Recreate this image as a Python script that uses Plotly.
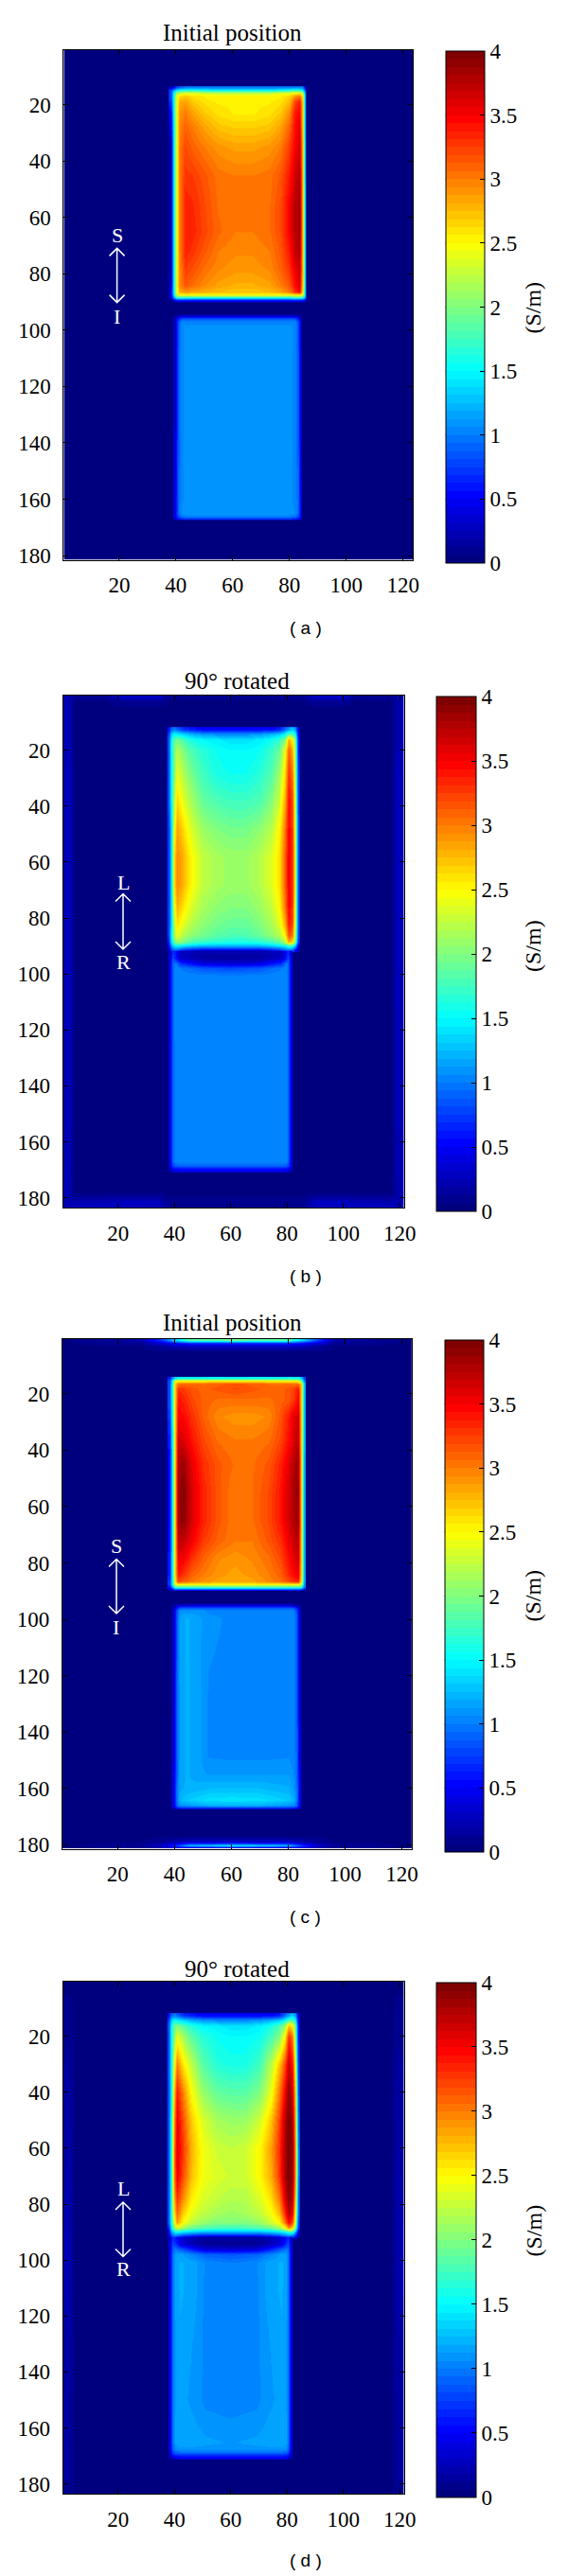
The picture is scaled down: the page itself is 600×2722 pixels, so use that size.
"""
Four conductivity maps (S/m), jet colour scale, each with its own colorbar
"""

import plotly.graph_objects as go

WIDTH = 600
HEIGHT = 2722

X_TICKS = [20, 40, 60, 80, 100, 120]
Y_TICKS = [20, 40, 60, 80, 100, 120, 140, 160, 180]
CBAR_TICKS = [0, 0.5, 1, 1.5, 2, 2.5, 3, 3.5, 4]
CBAR_LABELS = ['0', '0.5', '1', '1.5', '2', '2.5', '3', '3.5', '4']

# background level
BG_VAL = 0.05

# panel (a)
A_TOP_X = [38, 39, 40, 41, 43, 46, 50, 55, 61, 67, 73, 77, 80, 82, 83.5, 84.5, 85.5]
A_TOP_Y = [14, 15, 16, 17, 19, 23, 28, 35, 45, 55, 65, 72, 78, 84, 86.5, 87.5, 88.5, 89.5]
A_TOP_Z = [
    [.3, .5, .8, .9, 1, 1, 1, 1, 1, 1, 1, 1, 1, 1, 1, 1, .4],
    [.8, 1.2, 1.5, 1.6, 1.7, 1.7, 1.6, 1.5, 1.5, 1.5, 1.5, 1.6, 1.7, 1.8, 1.7, 1.5, .8],
    [.8, 1.5, 2.2, 2.3, 2.4, 2.4, 2.3, 2.3, 2.3, 2.3, 2.3, 2.4, 2.4, 2.5, 2.6, 2.3, 1],
    [.8, 1.6, 2.4, 2.6, 2.7, 2.6, 2.55, 2.5, 2.5, 2.5, 2.5, 2.55, 2.65, 2.9, 3, 2.6, 1],
    [.7, 1.6, 2.4, 2.8, 2.85, 2.7, 2.6, 2.55, 2.55, 2.55, 2.55, 2.6, 2.75, 3.2, 3.4, 2.7, 1],
    [.5, 1.6, 2.4, 2.9, 3, 2.85, 2.7, 2.6, 2.55, 2.55, 2.6, 2.7, 2.95, 3.4, 3.5, 2.7, 1],
    [.4, 1.5, 2.4, 2.95, 3.1, 3, 2.85, 2.72, 2.68, 2.68, 2.72, 2.85, 3.1, 3.45, 3.6, 2.7, 1],
    [.2, 1.5, 2.4, 3, 3.2, 3.1, 3, 2.9, 2.85, 2.85, 2.9, 3, 3.25, 3.5, 3.65, 2.8, 1.1],
    [.2, 1.5, 2.4, 3, 3.28, 3.25, 3.15, 3.03, 3, 3, 3.03, 3.15, 3.4, 3.65, 3.8, 2.8, 1.1],
    [.2, 1.5, 2.4, 3, 3.35, 3.32, 3.2, 3.05, 3, 3, 3.05, 3.2, 3.5, 3.75, 3.85, 2.8, 1.2],
    [.2, 1.5, 2.4, 3, 3.36, 3.35, 3.22, 3.08, 3, 3, 3.05, 3.2, 3.5, 3.75, 3.85, 2.8, 1.2],
    [.2, 1.5, 2.4, 3, 3.35, 3.28, 3.15, 3, 2.95, 2.95, 3, 3.15, 3.4, 3.7, 3.8, 2.8, 1.2],
    [.2, 1.5, 2.4, 2.95, 3.25, 3.18, 3.05, 2.95, 2.9, 2.9, 2.95, 3.1, 3.3, 3.55, 3.7, 2.8, 1.2],
    [.3, 1.5, 2.4, 2.95, 3.15, 3.05, 2.95, 2.85, 2.8, 2.8, 2.85, 3, 3.15, 3.45, 3.6, 2.7, 1.2],
    [.4, 1.5, 2.4, 2.8, 2.9, 2.85, 2.8, 2.75, 2.7, 2.7, 2.75, 2.85, 3, 3.3, 3.5, 2.6, 1.2],
    [.4, 1.4, 2.3, 2.5, 2.5, 2.5, 2.5, 2.5, 2.5, 2.5, 2.5, 2.5, 2.5, 2.6, 2.6, 2.4, 1.2],
    [.3, 1.1, 1.6, 1.7, 1.6, 1.6, 1.6, 1.6, 1.6, 1.6, 1.6, 1.6, 1.6, 1.7, 1.7, 1.6, 1],
    [.1, .3, .5, .5, .5, .5, .5, .5, .5, .5, .5, .5, .5, .5, .5, .5, .4],
]
A_LOW_X = [39.5, 40.5, 41.5, 43, 60, 80, 82, 83, 84]
A_LOW_Y = [95, 96, 97, 99, 130, 160, 165, 166, 167]
A_LOW_Z = [
    [.1, .2, .3, .3, .3, .3, .3, .2, .1],
    [.2, .6, .8, .85, .85, .85, .8, .6, .2],
    [.3, .8, 1, 1.05, 1.05, 1.05, 1, .8, .3],
    [.3, .8, 1.05, 1.07, 1.07, 1.07, 1.05, .8, .3],
    [.3, .85, 1.05, 1.07, 1.07, 1.07, 1.05, .85, .3],
    [.4, .9, 1.05, 1.07, 1.07, 1.07, 1.05, .9, .4],
    [.4, .9, 1.05, 1.1, 1.1, 1.1, 1.05, .9, .4],
    [.4, .8, .95, 1, 1, 1, .95, .8, .4],
    [.2, .5, .6, .65, .65, .65, .6, .5, .2],
]
A_BG_X = [1, 123]
A_BG_Y = [1, 181]
A_BG_Z = [[BG_VAL, BG_VAL], [BG_VAL, BG_VAL]]

# panel (b)
B_TOP_X = [38, 39, 40, 41, 43, 46, 50, 55, 60, 65, 70, 74, 77, 79, 80.5, 82, 83, 84]
B_TOP_Y = [12.5, 14, 16, 20, 28, 38, 48, 58, 68, 76, 82, 86, 88.5, 90, 91.5]
B_TOP_Z = [
    [.5, .9, 1, .9, .7, .6, .5, .5, .5, .5, .5, .5, .6, .9, 1.1, 1.3, 1.1, .4],
    [.7, 1.3, 1.5, 1.45, 1.35, 1.2, 1.1, 1.05, 1.05, 1.05, 1.1, 1.2, 1.3, 1.5, 1.8, 1.8, 1.5, .5],
    [.8, 1.5, 1.85, 1.95, 1.8, 1.6, 1.5, 1.45, 1.4, 1.4, 1.45, 1.55, 1.7, 2, 2.8, 2.5, 1.9, .6],
    [.8, 1.5, 1.95, 2.2, 2, 1.8, 1.65, 1.55, 1.5, 1.5, 1.55, 1.7, 1.9, 2.4, 3.1, 2.8, 2, .6],
    [.8, 1.5, 2, 2.4, 2.2, 1.95, 1.75, 1.6, 1.55, 1.55, 1.65, 1.8, 2.1, 2.6, 3.3, 3, 2.1, .7],
    [.8, 1.5, 2.2, 2.65, 2.4, 2.15, 1.9, 1.8, 1.75, 1.75, 1.8, 2, 2.3, 2.8, 3.45, 3.2, 2.2, .7],
    [.7, 1.4, 2.4, 2.85, 2.65, 2.35, 2.1, 2, 1.95, 1.95, 2.05, 2.2, 2.5, 3, 3.5, 3.25, 2.3, .8],
    [.7, 1.4, 2.6, 2.95, 2.8, 2.5, 2.25, 2.15, 2.1, 2.1, 2.2, 2.35, 2.6, 3.1, 3.55, 3.3, 2.3, .8],
    [.7, 1.4, 2.6, 2.95, 2.8, 2.5, 2.25, 2.15, 2.1, 2.1, 2.2, 2.35, 2.6, 3.1, 3.55, 3.3, 2.3, .8],
    [.7, 1.4, 2.4, 2.8, 2.6, 2.35, 2.15, 2.05, 2, 2, 2.1, 2.25, 2.5, 3, 3.5, 3.25, 2.3, .8],
    [.7, 1.4, 2.2, 2.6, 2.4, 2.2, 2.05, 1.95, 1.9, 1.9, 2, 2.15, 2.35, 2.8, 3.4, 3.2, 2.2, .8],
    [.7, 1.5, 2.1, 2.4, 2.2, 2.05, 1.95, 1.85, 1.8, 1.8, 1.9, 2.05, 2.2, 2.5, 3.2, 3, 2.1, .8],
    [.6, 1.4, 1.9, 2.1, 2, 1.8, 1.7, 1.65, 1.6, 1.6, 1.65, 1.75, 1.9, 2.2, 2.8, 2.6, 1.9, .7],
    [.4, 1.1, 1.4, 1.5, 1.4, 1.3, 1.2, 1.2, 1.2, 1.2, 1.2, 1.3, 1.4, 1.5, 1.7, 1.6, 1.2, .4],
    [.2, .7, .9, .8, .6, .5, .4, .4, .4, .4, .4, .5, .6, .8, .9, .8, .5, .2],
]
B_LOW_X = [38.5, 39.5, 40.5, 42, 50, 60, 70, 78, 79.5, 80.5, 81.5]
B_LOW_Y = [92.5, 94, 96, 98, 101, 124, 128, 160, 167, 168.5, 170]
B_LOW_Z = [
    [.3, .7, .6, .3, .2, .2, .2, .3, .6, .7, .3],
    [.4, .8, .6, .3, .15, .15, .15, .3, .6, .8, .4],
    [.4, .9, 1, .7, .4, .35, .4, .7, 1, .9, .4],
    [.4, .9, 1.05, 1, .85, .8, .85, 1, 1.05, .9, .4],
    [.4, .9, 1.05, 1.05, 1.05, 1.05, 1.05, 1.05, 1.05, .9, .4],
    [.4, .9, 1.05, 1.05, 1.05, 1.05, 1.05, 1.05, 1.05, .9, .4],
    [.4, .9, 1.02, 1, 1, 1, 1, 1, 1.02, .9, .4],
    [.4, .9, 1.02, 1, 1, 1, 1, 1, 1.02, .9, .4],
    [.4, .9, 1.05, 1.05, 1.05, 1.05, 1.05, 1.05, 1.05, .9, .4],
    [.4, .75, .85, .9, .9, .9, .9, .9, .85, .75, .4],
    [.2, .4, .45, .45, .45, .45, .45, .45, .45, .4, .2],
]
B_BG_X = [1, 2.5, 4.5, 16, 20, 34, 38, 86, 90, 100, 104, 117, 119, 121]
B_BG_Y = [1, 2.5, 5, 30, 100, 170, 178, 181, 183]
B_BG_Z = [
    [.2, .2, .1, .1, .3, .3, .1, .1, .3, .3, .1, .1, .2, .2],
    [.2, .22, .06, .05, .1, .1, .05, .05, .1, .1, .05, .06, .22, .2],
    [.2, .22, .06, .05, .05, .05, .05, .05, .05, .05, .05, .06, .22, .2],
    [.22, .28, .05, .05, .05, .05, .05, .05, .05, .05, .05, .05, .28, .22],
    [.22, .28, .05, .05, .05, .05, .05, .05, .05, .05, .05, .05, .28, .22],
    [.22, .25, .05, .05, .05, .05, .05, .05, .05, .05, .05, .05, .25, .22],
    [.2, .2, .05, .05, .05, .05, .05, .05, .05, .05, .05, .05, .2, .2],
    [.2, .22, .2, .22, .25, .25, .08, .08, .25, .25, .22, .2, .22, .2],
    [.25, .25, .28, .3, .3, .3, .12, .12, .3, .3, .3, .28, .25, .25],
]

# panel (c)
C_TOP_X = [38, 39, 40, 41, 43, 46, 50, 55, 61, 67, 73, 77, 80, 82, 83.5, 84.5, 85.5]
C_TOP_Y = [14.5, 15.5, 16.5, 18, 22, 28, 36, 45, 55, 65, 72, 78, 84, 86.5, 87.5, 88.5, 89.5]
C_TOP_Z = [
    [.6, 1, 1.4, 1.5, 1.5, 1.5, 1.5, 1.5, 1.5, 1.5, 1.5, 1.5, 1.5, 1.5, 1.5, 1.3, .8],
    [.8, 1.5, 2.4, 2.5, 2.5, 2.5, 2.5, 2.5, 2.5, 2.5, 2.5, 2.5, 2.5, 2.5, 2.4, 1.9, 1],
    [.8, 1.6, 2.7, 3, 3.05, 3.05, 3.05, 3.1, 3.15, 3.1, 3.05, 3.05, 3.05, 3, 3, 2.7, 1.3],
    [.8, 1.6, 2.7, 3.3, 3.25, 3.15, 3.1, 3.15, 3.2, 3.15, 3.1, 3.1, 3.15, 3.25, 3.4, 2.7, 1.3],
    [.8, 1.6, 2.7, 3.4, 3.35, 3.2, 3.1, 3.05, 3.05, 3.05, 3.05, 3.1, 3.15, 3.3, 3.5, 2.7, 1.3],
    [.7, 1.6, 2.7, 3.5, 3.45, 3.3, 3.1, 2.95, 2.9, 2.9, 2.95, 3.15, 3.4, 3.6, 3.65, 2.7, 1.3],
    [.6, 1.5, 2.7, 3.65, 3.6, 3.4, 3.2, 3.05, 3, 3, 3.05, 3.2, 3.45, 3.65, 3.75, 2.7, 1.3],
    [.5, 1.5, 2.7, 3.8, 3.85, 3.55, 3.3, 3.15, 3.05, 3.05, 3.15, 3.35, 3.6, 3.8, 3.85, 2.7, 1.2],
    [.5, 1.5, 2.7, 3.85, 3.95, 3.6, 3.35, 3.15, 3, 3.05, 3.2, 3.4, 3.65, 3.85, 3.9, 2.7, 1.2],
    [.5, 1.5, 2.7, 3.85, 3.9, 3.6, 3.35, 3.15, 3, 3.05, 3.2, 3.4, 3.65, 3.8, 3.85, 2.7, 1.2],
    [.5, 1.5, 2.7, 3.7, 3.7, 3.5, 3.25, 3.1, 3, 3, 3.15, 3.3, 3.55, 3.7, 3.75, 2.7, 1.2],
    [.6, 1.5, 2.7, 3.55, 3.5, 3.3, 3.1, 2.95, 2.9, 2.95, 3.05, 3.2, 3.45, 3.6, 3.65, 2.7, 1.2],
    [.6, 1.5, 2.7, 3.4, 3.3, 3.1, 3, 2.9, 2.85, 2.9, 3, 3.1, 3.35, 3.5, 3.55, 2.7, 1.2],
    [.7, 1.5, 2.6, 3.2, 3.1, 3, 2.9, 2.85, 2.85, 2.85, 2.95, 3.05, 3.2, 3.3, 3.35, 2.6, 1.2],
    [.7, 1.5, 2.4, 2.5, 2.5, 2.5, 2.5, 2.5, 2.5, 2.5, 2.5, 2.5, 2.5, 2.5, 2.5, 2.3, 1.1],
    [.5, 1.1, 1.7, 1.7, 1.7, 1.7, 1.7, 1.7, 1.7, 1.7, 1.7, 1.7, 1.7, 1.7, 1.7, 1.6, 1],
    [.2, .4, .6, .6, .6, .6, .6, .6, .6, .6, .6, .6, .6, .6, .6, .6, .4],
]
C_LOW_X = [39.5, 40.5, 41.5, 44, 48, 52, 60, 70, 80, 82, 83, 84]
C_LOW_Y = [95, 96, 97, 100, 130, 148, 155, 160, 164, 166, 167]
C_LOW_Z = [
    [.1, .2, .3, .3, .3, .3, .3, .3, .3, .2, .15, .1],
    [.2, .6, .8, .85, .85, .85, .85, .85, .85, .8, .6, .2],
    [.3, .8, 1.08, 1.1, 1.1, 1.05, 1.05, 1.05, 1.05, 1, .8, .3],
    [.3, .85, 1.14, 1.2, 1.15, 1.08, 1.05, 1.05, 1.05, 1, .85, .3],
    [.3, .9, 1.12, 1.2, 1.15, 1.05, 1.04, 1.04, 1.05, 1.02, .85, .3],
    [.35, .9, 1.12, 1.2, 1.15, 1.05, 1.04, 1.04, 1.05, 1.02, .9, .35],
    [.4, .9, 1.14, 1.2, 1.15, 1.12, 1.12, 1.12, 1.12, 1.05, .9, .4],
    [.4, .95, 1.17, 1.2, 1.22, 1.25, 1.25, 1.25, 1.2, 1.1, .95, .4],
    [.4, .95, 1.22, 1.3, 1.35, 1.4, 1.42, 1.4, 1.3, 1.2, .95, .4],
    [.4, .9, 1.08, 1.1, 1.15, 1.2, 1.2, 1.2, 1.1, 1.05, .9, .4],
    [.2, .5, .58, .6, .6, .6, .6, .6, .6, .55, .5, .2],
]
C_BG_X = [1, 28, 36, 40, 45, 60, 80, 85, 90, 96, 123]
C_BG_Y = [1, 1.8, 3, 5, 177, 179, 180.3, 181]
C_BG_Z = [
    [.05, .2, .8, 1.3, 1.8, 1.9, 1.8, 1.3, .8, .2, .05],
    [.05, .12, .4, .6, .7, .7, .7, .6, .4, .12, .05],
    [.05, .06, .15, .25, .3, .3, .3, .25, .15, .06, .05],
    [.05, .05, .05, .05, .05, .05, .05, .05, .05, .05, .05],
    [.05, .05, .05, .05, .05, .05, .05, .05, .05, .05, .05],
    [.05, .06, .12, .2, .3, .3, .3, .2, .12, .06, .05],
    [.05, .12, .35, .7, 1.2, 1.4, 1.2, .7, .35, .12, .05],
    [.05, .08, .2, .4, .5, .6, .5, .4, .2, .08, .05],
]

# panel (d)
D_TOP_X = [38, 39, 40, 41, 43, 46, 50, 55, 60, 65, 70, 74, 77, 79, 80.5, 82, 83, 84]
D_TOP_Y = [12.5, 14, 16, 20, 30, 40, 50, 60, 70, 78, 83, 86.5, 88.5, 90, 91.5]
D_TOP_Z = [
    [.5, .9, 1, .9, .7, .6, .5, .5, .5, .5, .5, .5, .6, .9, 1.1, 1.3, 1.1, .4],
    [.7, 1.3, 1.5, 1.45, 1.35, 1.2, 1.1, 1.05, 1.05, 1.05, 1.1, 1.2, 1.3, 1.5, 1.8, 1.8, 1.5, .5],
    [.8, 1.5, 1.9, 2, 1.85, 1.65, 1.5, 1.45, 1.4, 1.4, 1.45, 1.6, 1.8, 2.1, 2.7, 2.5, 1.9, .6],
    [.8, 1.5, 2, 2.4, 2.15, 1.85, 1.65, 1.55, 1.5, 1.5, 1.55, 1.75, 2, 2.5, 3.3, 3, 2, .6],
    [.8, 1.5, 2.4, 3, 2.6, 2.25, 1.85, 1.65, 1.6, 1.6, 1.75, 2.2, 2.7, 3.2, 3.7, 3.4, 2.4, .7],
    [.8, 1.5, 2.7, 3.4, 3, 2.5, 2.1, 1.9, 1.85, 1.85, 2, 2.4, 3, 3.5, 3.95, 3.6, 2.7, .8],
    [.8, 1.6, 2.9, 3.55, 3.2, 2.7, 2.35, 2.15, 2.1, 2.1, 2.3, 2.7, 3.2, 3.75, 4, 3.8, 2.8, .9],
    [.8, 1.6, 3, 3.6, 3.3, 2.8, 2.45, 2.3, 2.25, 2.3, 2.5, 2.85, 3.3, 3.8, 4, 3.9, 2.9, 1],
    [.8, 1.6, 3, 3.55, 3.2, 2.75, 2.45, 2.35, 2.3, 2.3, 2.5, 2.8, 3.25, 3.8, 4, 3.85, 2.9, 1],
    [.8, 1.6, 2.8, 3.3, 2.95, 2.55, 2.35, 2.25, 2.2, 2.2, 2.35, 2.6, 3, 3.6, 3.95, 3.7, 2.7, .9],
    [.8, 1.6, 2.6, 3.1, 2.7, 2.4, 2.25, 2.15, 2.1, 2.15, 2.25, 2.45, 2.75, 3.35, 3.8, 3.5, 2.5, .9],
    [.8, 1.6, 2.3, 2.9, 2.5, 2.25, 2.1, 2, 2, 2, 2.1, 2.3, 2.5, 3, 3.5, 3.2, 2.3, .8],
    [.6, 1.4, 2, 2.3, 2.1, 1.9, 1.8, 1.75, 1.7, 1.75, 1.8, 1.9, 2.1, 2.4, 2.9, 2.6, 1.9, .7],
    [.4, 1.1, 1.4, 1.5, 1.4, 1.3, 1.2, 1.2, 1.2, 1.2, 1.2, 1.3, 1.4, 1.5, 1.7, 1.6, 1.2, .4],
    [.2, .7, .9, .8, .6, .5, .4, .4, .4, .4, .4, .5, .6, .8, .9, .8, .5, .2],
]
D_LOW_X = [38.5, 39.5, 40.5, 42, 47, 51, 60, 69, 73, 78, 79.5, 80.5, 81.5]
D_LOW_Y = [92.5, 94, 96, 98, 101, 110, 125, 150, 165, 167.5, 169, 170.5]
D_LOW_Z = [
    [.3, .7, .6, .4, .2, .15, .15, .15, .2, .4, .6, .7, .3],
    [.4, .8, .7, .4, .2, .1, .1, .1, .2, .4, .7, .8, .4],
    [.4, .9, 1, .9, .6, .4, .35, .4, .6, .9, 1, .9, .4],
    [.4, .95, 1.12, 1.15, 1, .9, .85, .9, 1, 1.15, 1.12, .95, .4],
    [.4, .95, 1.14, 1.2, 1.15, 1.05, 1, 1.05, 1.15, 1.2, 1.14, .95, .4],
    [.4, .95, 1.14, 1.2, 1.15, 1.04, 1, 1.04, 1.15, 1.2, 1.14, .95, .4],
    [.4, .95, 1.12, 1.18, 1.12, 1.04, 1, 1.04, 1.12, 1.18, 1.12, .95, .4],
    [.4, .95, 1.12, 1.15, 1.1, 1.04, 1.02, 1.04, 1.1, 1.15, 1.12, .95, .4],
    [.4, .95, 1.14, 1.18, 1.16, 1.14, 1.12, 1.14, 1.16, 1.18, 1.14, .95, .4],
    [.4, .9, 1.05, 1.1, 1.1, 1.1, 1.1, 1.1, 1.1, 1.1, 1.05, .9, .4],
    [.35, .75, .85, .9, .9, .9, .9, .9, .9, .9, .85, .75, .35],
    [.15, .35, .4, .45, .45, .45, .45, .45, .45, .45, .4, .35, .15],
]
D_BG_X = [1, 2.5, 4.5, 117, 119, 121]
D_BG_Y = [1, 40, 100, 183]
D_BG_Z = [
    [.05, .05, .05, .05, .05, .05],
    [.15, .18, .05, .05, .18, .15],
    [.2, .22, .05, .05, .22, .2],
    [.12, .12, .05, .05, .12, .12],
]


def jet_scale():
    # MATLAB style jet, 64 flat bands
    anchors = [(0, (0, 0, 127)), (.125, (0, 0, 255)), (.375, (0, 255, 255)),
               (.625, (255, 255, 0)), (.875, (255, 0, 0)), (1, (127, 0, 0))]
    scale = []
    for i in range(64):
        t = i / 63
        for (t0, c0), (t1, c1) in zip(anchors, anchors[1:]):
            if t0 <= t <= t1:
                f = (t - t0) / (t1 - t0)
                rgb = [round(a + (b - a) * f) for a, b in zip(c0, c1)]
                break
        color = 'rgb(%d,%d,%d)' % tuple(rgb)
        scale.append([i / 64, color])
        scale.append([(i + 1) / 64, color])
    return scale


def px(x):
    return x / WIDTH


def py(y):
    return 1 - y / HEIGHT


SERIF = 'Liberation Serif'
JET = jet_scale()

panels = [
    dict(title='Initial position', caption='( a )', top=(A_TOP_X, A_TOP_Y, A_TOP_Z), low=(A_LOW_X, A_LOW_Y, A_LOW_Z),
         bg=(A_BG_X, A_BG_Y, A_BG_Z), xr=[.5, 123.5], yr=[181.5, .5],
         box=(67.4, 436.3, 52.5, 591.5), cbar=(470.7, 512, 54, 595), title_at=(245, 34), cap_y=663.5,
         unit_at=(562.6, 325), letters=('S', 'I'), arrow=(123.6, 262.4, 319.6), letter_y=(248.5, 334.8)),
    dict(title='90° rotated', caption='( b )', top=(B_TOP_X, B_TOP_Y, B_TOP_Z), low=(B_LOW_X, B_LOW_Y, B_LOW_Z),
         bg=(B_BG_X, B_BG_Y, B_BG_Z), xr=[.5, 121.5], yr=[183.5, .5],
         box=(66.6, 426.7, 735, 1276), cbar=(460.8, 502.5, 736, 1280), title_at=(250.7, 720), cap_y=1348,
         unit_at=(563, 1000), letters=('L', 'R'), arrow=(130, 944.5, 1003), letter_y=(932, 1016.5)),
    dict(title='Initial position', caption='( c )', top=(C_TOP_X, C_TOP_Y, C_TOP_Z), low=(C_LOW_X, C_LOW_Y, C_LOW_Z),
         bg=(C_BG_X, C_BG_Y, C_BG_Z), xr=[.5, 123.5], yr=[181.5, .5],
         box=(65.8, 435, 1414.7, 1953.7), cbar=(469.6, 511, 1416, 1957), title_at=(245, 1397.8), cap_y=2025.7,
         unit_at=(563, 1686.6), letters=('S', 'I'), arrow=(123, 1647.5, 1705), letter_y=(1633.7, 1719)),
    dict(title='90° rotated', caption='( d )', top=(D_TOP_X, D_TOP_Y, D_TOP_Z), low=(D_LOW_X, D_LOW_Y, D_LOW_Z),
         bg=(D_BG_X, D_BG_Y, D_BG_Z), xr=[.5, 121.5], yr=[183.5, .5],
         box=(66.6, 426.7, 2094, 2635), cbar=(460.8, 502.5, 2095, 2638.5), title_at=(250.7, 2080), cap_y=2705.5,
         unit_at=(563, 2357.5), letters=('L', 'R'), arrow=(130, 2327, 2384.5), letter_y=(2312, 2397.5)),
]

fig = go.Figure()
annotations = []
shapes = []
layout = {}

for n, p in enumerate(panels, start=1):
    suffix = '' if n == 1 else str(n)
    left, right, top, bottom = p['box']
    cl, cr, ct, cb = p['cbar']

    for key in ('bg', 'top', 'low'):
        xs, ys, zs = p[key]
        fig.add_trace(go.Heatmap(
            x=xs, y=ys, z=zs,
            zsmooth='best',
            coloraxis='coloraxis' + suffix,
            xaxis='x' + suffix,
            yaxis='y' + suffix,
            hoverinfo='skip'
        ))

    axis_style = dict(
        showgrid=False, zeroline=False, showline=True, linecolor='black', linewidth=1,
        mirror='allticks', ticks='inside', ticklen=5, tickcolor='black', tickwidth=1,
        tickfont=dict(family=SERIF, size=23, color='black')
    )
    layout['xaxis' + suffix] = dict(
        domain=[px(left), px(right)], range=p['xr'], tickvals=X_TICKS, anchor='y' + suffix,
        ticklabelstandoff=6, **axis_style
    )
    layout['yaxis' + suffix] = dict(
        domain=[py(bottom), py(top)], range=p['yr'], tickvals=Y_TICKS, anchor='x' + suffix,
        ticklabelstandoff=8, **axis_style
    )
    layout['coloraxis' + suffix] = dict(
        cmin=0, cmax=4, colorscale=JET,
        colorbar=dict(
            x=px(cl), xanchor='left', xpad=0, ypad=0,
            y=py(cb), yanchor='bottom',
            thicknessmode='pixels', thickness=cr - cl,
            lenmode='pixels', len=cb - ct,
            tickvals=CBAR_TICKS, ticktext=CBAR_LABELS,
            ticks='inside', ticklen=5, tickcolor='black', tickwidth=1,
            outlinecolor='black', outlinewidth=1, borderwidth=0,
            tickfont=dict(family=SERIF, size=23, color='black')
        )
    )

    # MATLAB draws colorbar ticks on the left edge as well
    for t in CBAR_TICKS[1:-1]:
        tick_y = py(cb - (cb - ct) * t / 4)
        shapes.append(dict(type='line', xref='paper', yref='paper', x0=px(cl), x1=px(cl + 5),
                           y0=tick_y, y1=tick_y, line=dict(color='black', width=1)))

    # orientation arrow
    ax, ay0, ay1 = p['arrow']
    chevron = 8
    path = 'M%f,%f L%f,%f M%f,%f L%f,%f L%f,%f M%f,%f L%f,%f L%f,%f' % (
        px(ax), py(ay0), px(ax), py(ay1),
        px(ax - chevron), py(ay0 + chevron), px(ax), py(ay0), px(ax + chevron), py(ay0 + chevron),
        px(ax - chevron), py(ay1 - chevron), px(ax), py(ay1), px(ax + chevron), py(ay1 - chevron)
    )
    shapes.append(dict(type='path', xref='paper', yref='paper', path=path, line=dict(color='white', width=1.5)))

    texts = [
        (p['title'], p['title_at'][0], p['title_at'][1], 25, SERIF, 'black', 0),
        (p['caption'], 322.6, p['cap_y'], 19, 'Liberation Sans', 'black', 0),
        ('(S/m)', p['unit_at'][0], p['unit_at'][1], 24, SERIF, 'black', -90),
        (p['letters'][0], ax, p['letter_y'][0], 22, SERIF, 'white', 0),
        (p['letters'][1], ax, p['letter_y'][1], 22, SERIF, 'white', 0),
    ]
    for text, tx, ty, size, family, color, angle in texts:
        annotations.append(dict(
            text=text, x=px(tx), y=py(ty), xref='paper', yref='paper', showarrow=False,
            xanchor='center', yanchor='middle', textangle=angle,
            font=dict(family=family, size=size, color=color)
        ))

fig.update_layout(
    width=WIDTH, height=HEIGHT, autosize=False,
    margin=dict(l=0, r=0, t=0, b=0, autoexpand=False),
    paper_bgcolor='white', plot_bgcolor='white',
    showlegend=False, annotations=annotations, shapes=shapes,
    **layout
)

fig.write_html("out.html", config={'displayModeBar': False}, post_script="document.body.style.margin='0';")
